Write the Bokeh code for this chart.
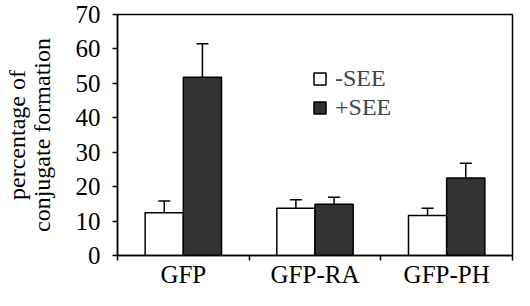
from bokeh.plotting import figure
from bokeh.models import FixedTicker, Whisker, TeeHead, ColumnDataSource, Legend, LegendItem, Range1d
from bokeh.embed import file_html
from bokeh.resources import INLINE

categories = ["GFP", "GFP-RA", "GFP-PH"]
minus_see = [12.4, 13.7, 11.6]
minus_err = [3.4, 2.5, 2.1]
plus_see = [51.8, 14.9, 22.5]
plus_err = [9.7, 2.0, 4.3]
y_ticks = [0, 10, 20, 30, 40, 50, 60, 70]

FONT = "Times New Roman"
FS = "25px"
FS2 = "24px"
DARK = "#333333"

p = figure(width=514, height=290, output_backend="svg", toolbar_location=None,
           x_range=Range1d(0, 3), y_range=Range1d(0, 70),
           min_border_left=110, min_border_right=2, min_border_top=14, min_border_bottom=20)
p.background_fill_color = "white"
p.border_fill_color = "white"
p.grid.visible = False
p.outline_line_color = "black"
p.outline_line_width = 1.5

xc = [i + 0.5 for i in range(len(categories))]
off = 0.145
bw = 0.29
src_m = ColumnDataSource(dict(x=[c - off for c in xc], top=minus_see,
                              upper=[v + e for v, e in zip(minus_see, minus_err)]))
src_p = ColumnDataSource(dict(x=[c + off for c in xc], top=plus_see,
                              upper=[v + e for v, e in zip(plus_see, plus_err)]))

for src in (src_m, src_p):
    w = Whisker(source=src, base="x", lower="top", upper="upper", dimension="height",
                line_color="black", line_width=1.5,
                upper_head=TeeHead(size=12, line_color="black", line_width=1.5),
                lower_head=None)
    p.add_layout(w)

r_m = p.vbar(x="x", top="top", width=bw, source=src_m, fill_color="white",
             line_color="black", line_width=1.5)
r_p = p.vbar(x="x", top="top", width=bw, source=src_p, fill_color=DARK,
             line_color="black", line_width=1.5)

p.xaxis.ticker = FixedTicker(ticks=xc, minor_ticks=[0, 1, 2, 3])
p.xaxis.major_label_overrides = {c: n for c, n in zip(xc, categories)}
p.xaxis.major_tick_out = 0
p.xaxis.major_tick_in = 0
p.xaxis.minor_tick_out = 5
p.xaxis.minor_tick_in = 0
p.xaxis.major_label_standoff = 0

p.yaxis.ticker = FixedTicker(ticks=y_ticks)
p.yaxis.major_tick_out = 5
p.yaxis.major_tick_in = 0
p.yaxis.minor_tick_out = 0
p.yaxis.minor_tick_in = 0
p.yaxis.major_label_standoff = 12
p.yaxis.axis_label = "percentage of\nconjugate formation"
p.yaxis.axis_label_standoff = 18

for ax in (p.xaxis, p.yaxis):
    ax.axis_line_color = "black"
    ax.axis_line_width = 1.5
    ax.major_tick_line_color = "black"
    ax.major_tick_line_width = 1.5
    ax.minor_tick_line_color = "black"
    ax.minor_tick_line_width = 1.5
    ax.major_label_text_font = FONT
    ax.major_label_text_font_size = FS
    ax.major_label_text_color = "black"
    ax.axis_label_text_font = FONT
    ax.axis_label_text_font_size = FS2
    ax.axis_label_text_font_style = "normal"
    ax.axis_label_text_color = "black"
    ax.axis_label_text_line_height = 0.95

legend = Legend(items=[LegendItem(label="-SEE", renderers=[r_m]),
                       LegendItem(label="+SEE", renderers=[r_p])],
                location=(195, 134), padding=0, margin=0, spacing=2,
                glyph_width=15, glyph_height=15, label_standoff=8,
                label_text_font=FONT, label_text_font_size=FS2,
                border_line_color=None, background_fill_alpha=0)
p.add_layout(legend)

open("out.html", "w").write(file_html(p, INLINE))
